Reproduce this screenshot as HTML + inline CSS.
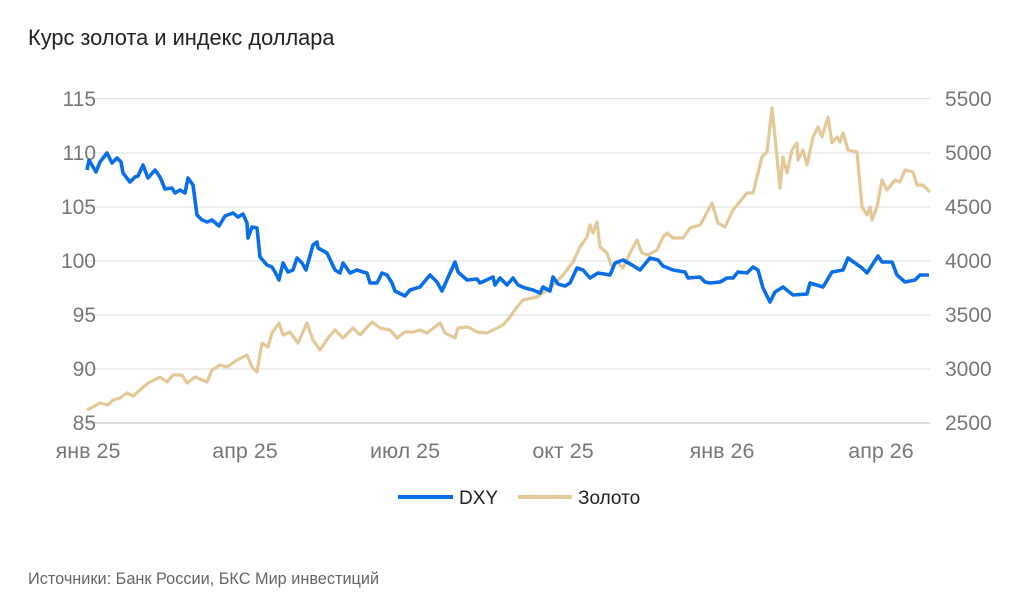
<!DOCTYPE html><html><head><meta charset="utf-8"><style>body{margin:0;background:#fff;font-family:"Liberation Sans",sans-serif}</style></head><body>
<svg width="1024" height="607" xmlns="http://www.w3.org/2000/svg" font-family="Liberation Sans, sans-serif">
<text x="28" y="45" font-size="21.8" fill="#222">Курс золота и индекс доллара</text>
<g stroke="#e3e3e3" stroke-width="1.2">
<line x1="86" x2="930" y1="98.5" y2="98.5"/><line x1="86" x2="930" y1="153" y2="153"/><line x1="86" x2="930" y1="207" y2="207"/><line x1="86" x2="930" y1="261" y2="261"/><line x1="86" x2="930" y1="315" y2="315"/><line x1="86" x2="930" y1="369" y2="369"/></g>
<line x1="86" x2="930" y1="423" y2="423" stroke="#d0d0d0" stroke-width="1.5"/>
<g font-size="21" fill="#777" text-anchor="end">
<text x="96" y="106">115</text><text x="96" y="160">110</text><text x="96" y="214">105</text><text x="96" y="268">100</text><text x="96" y="322">95</text><text x="96" y="376">90</text><text x="96" y="430">85</text></g>
<g font-size="21" fill="#777" text-anchor="start">
<text x="945" y="106">5500</text><text x="945" y="160">5000</text><text x="945" y="214">4500</text><text x="945" y="268">4000</text><text x="945" y="322">3500</text><text x="945" y="376">3000</text><text x="945" y="430">2500</text></g>
<g font-size="21.5" fill="#777" text-anchor="middle">
<text x="88" y="458">янв 25</text><text x="245" y="458">апр 25</text><text x="405" y="458">июл 25</text><text x="563" y="458">окт 25</text><text x="722" y="458">янв 26</text><text x="881" y="458">апр 26</text></g>
<polyline fill="none" stroke="#e3c898" stroke-width="3.2" stroke-linejoin="round" points="87,410 93,407 100,403 108,405 113,400 120,398 127,393 133,396 140,390 148,383 160,377 167,382 173,375 182,375 187,383 195,377 207,382 212,370 220,365 227,367 237,360 247,355 252,367 257,372 262,343 268,347 272,333 279,323 283,335 290,332 298,343 307,323 313,340 320,350 328,338 335,330 343,338 353,328 360,335 372,322 380,328 390,330 397,338 405,332 413,332 420,330 427,333 440,323 445,333 455,338 458,328 468,327 477,332 487,333 497,328 503,325 510,317 517,307 523,300 537,297 550,288 563,275 573,262 580,247 587,237 590,225 593,233 597,222 600,247 607,253 612,267 617,262 623,268 630,253 637,240 642,253 648,255 657,250 663,237 667,233 673,238 683,238 690,228 700,225 703,220 712,203 718,223 725,227 733,210 747,193 753,193 762,157 767,152 772,108 775,137 780,188 783,157 787,173 792,150 797,143 798,160 803,150 807,165 813,137 818,127 822,137 828,117 832,143 837,137 840,142 843,133 848,150 857,152 862,207 867,215 870,207 872,220 877,207 882,180 887,190 895,180 900,182 905,170 913,172 917,185 923,185 930,192"/>
<polyline fill="none" stroke="#0a6ee6" stroke-width="3.6" stroke-linejoin="round" points="87,170 89,160 96,172 100,162 107,153 112,163 117,158 121,162 123,173 130,182 135,177 138,176 143,165 148,178 155,170 160,177 165,189 172,188 175,193 180,190 185,193 188,178 193,185 197,215 202,220 207,222 212,220 219,226 225,216 233,213 238,217 243,214 247,223 248,238 252,227 257,228 260,257 267,265 272,267 275,272 279,280 283,263 288,272 293,270 297,258 302,263 306,270 313,245 317,242 318,248 327,253 335,270 340,273 343,263 350,273 357,270 363,272 367,273 370,283 377,283 382,273 387,275 392,283 395,291 405,296 410,290 420,287 430,275 437,282 442,291 450,273 455,262 458,272 467,280 477,279 480,283 493,277 495,285 500,278 507,285 513,278 518,285 525,288 533,290 540,293 543,287 550,291 553,277 558,284 565,286 570,283 577,268 583,270 590,278 598,273 610,275 615,263 623,260 632,265 640,270 650,258 658,260 663,266 673,270 685,272 688,278 700,277 705,282 710,283 720,282 727,278 733,278 738,272 747,273 753,267 758,270 763,288 770,302 775,292 783,287 793,295 807,294 810,283 823,287 832,272 843,270 848,258 855,263 862,268 867,273 878,256 882,262 892,262 897,275 905,282 915,280 920,275 929,275"/>
<line x1="398" x2="453" y1="497" y2="497" stroke="#0a6ee6" stroke-width="4"/>
<text x="459" y="504" font-size="19" fill="#222">DXY</text>
<line x1="518" x2="572" y1="497" y2="497" stroke="#e3c898" stroke-width="4"/>
<text x="578" y="504" font-size="19" fill="#222">Золото</text>
<text x="28" y="584" font-size="16.3" fill="#666">Источники: Банк России, БКС Мир инвестиций</text>
</svg></body></html>
